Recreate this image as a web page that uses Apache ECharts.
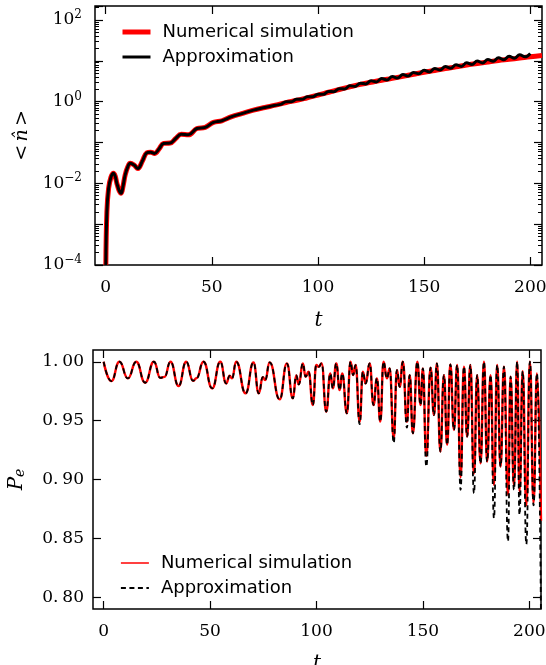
<!DOCTYPE html>
<html>
<head>
<meta charset="utf-8">
<title>Mean photon number and P_e</title>
<script src="https://cdn.jsdelivr.net/npm/echarts@6/dist/echarts.min.js"></script>
</head>
<body style="margin:0">
<div id="main" style="width:546px;height:665px"></div>
<script>
// top panel: <n> against t (log scale)
var nTimes = [0.1, 0.6, 1.4, 2.5, 3.7, 4.5, 5.3, 6.3, 7.3, 8.2, 9.2, 10.4, 11.6, 13.4, 15.2, 17.3, 19.4, 21.2, 23, 25.2,
  27.3, 30.4, 33, 35.6, 39, 43, 46.9, 50.8, 54.7, 59.4, 64.1, 69.6, 75, 80, 85, 90, 95, 100, 105, 110,
  115, 120, 125, 130, 135, 140, 145, 150, 155, 160, 165, 170, 175, 180, 185, 190, 195, 200, 205.5];
var nNumerical = [0.0001, 0.002, 0.0075, 0.014, 0.0176, 0.015, 0.010, 0.0068, 0.0057, 0.0085, 0.016, 0.025, 0.031, 0.028, 0.023, 0.035, 0.056, 0.058, 0.054, 0.07,
  0.095, 0.097, 0.125, 0.16, 0.154, 0.22, 0.235, 0.31, 0.34, 0.43, 0.51, 0.62, 0.72, 0.82, 0.95, 1.08, 1.25, 1.45, 1.7, 1.98,
  2.3, 2.65, 2.98, 3.35, 3.72, 4.17, 4.68, 5.25, 5.8, 6.45, 7.1, 7.9, 8.6, 9.4, 10.2, 10.9, 11.7, 12.6, 13.5];
// approximation follows the simulation up to t = 80, then wiggles
var nApproxTimes = [82.5, 85, 87.5, 90, 92.5, 95, 97.5, 100, 102.5, 105, 107.5, 110, 112.5, 115, 117.5, 120,
  122.5, 125, 127.5, 130, 132.5, 135, 137.5, 140, 142.5, 145, 147.5, 150, 152.5, 155, 157.5, 160,
  162.5, 165, 167.5, 170, 172.5, 175, 177.5, 180, 182.5, 185, 187.5, 190, 192.5, 195, 197.5, 200];
var nApprox = [0.86, 0.99, 1.0, 1.14, 1.14, 1.32, 1.32, 1.52, 1.51, 1.78, 1.76, 2.08, 2.04, 2.44, 2.36, 2.84,
  2.72, 3.24, 3.05, 3.68, 3.4, 4.12, 3.8, 4.62, 4.25, 5.2, 4.8, 5.85, 5.35, 6.5, 5.95, 7.25,
  6.6, 8.05, 7.3, 8.95, 8.1, 9.85, 8.9, 10.8, 9.8, 11.9, 10.6, 12.9, 11.5, 14.1, 12.5, 15.2];

// bottom panel: P_e against t
var peTimes = [0, 3.6, 7.4, 11.4, 15.3, 19.5, 23.6, 26.6, 28.6, 31.4,
  35.2, 38.8, 42.0, 43.6, 46.9, 51.0, 54.8, 57.6, 59.2, 60.3,
  62.3, 66.7, 70.4, 72.9, 74.8, 75.9, 78.0, 82.7, 86.1, 88.9,
  90.5, 91.7, 93.6, 94.9, 96.3, 98.3, 99.9, 101.1, 102.4, 104.6,
  106.5, 107.7, 109.3, 110.9, 112.1, 114.3, 116.0, 117.2, 118.4, 120.3,
  121.8, 123.1, 125.0, 126.8, 128.4, 130.0, 131.5, 133.1, 134.4, 136.3,
  137.8, 139.1, 140.6, 142.5, 143.8, 145.3, 147.4, 148.9, 150.0, 151.6,
  153.6, 155.2, 156.6, 158.2, 159.9, 161.4, 162.9, 164.6, 166.1, 167.7,
  169.3, 170.8, 172.3, 174.0, 175.5, 177.1, 178.7, 180.2, 181.8, 183.4,
  184.9, 186.5, 188.1, 190.0, 191.2, 192.8, 194.3, 195.4, 196.9, 198.6,
  200.3, 202.0, 203.6, 205.5];
var peNumerical = [1.000, 0.9836, 1.000, 0.9859, 1.000, 0.9822, 1.000, 0.9864, 0.9872, 1.000,
  0.9794, 1.000, 0.9838, 0.9860, 1.000, 0.9774, 1.000, 0.9816, 0.9881, 0.9859,
  1.000, 0.9732, 0.9994, 0.9732, 0.9870, 0.9845, 0.9994, 0.9681, 0.9985, 0.9689,
  0.9884, 0.9808, 0.9986, 0.9873, 0.9915, 0.9633, 0.9972, 0.9958, 0.9986, 0.9576,
  0.9900, 0.9774, 0.9986, 0.9760, 0.9900, 0.9562, 1.000, 0.9887, 0.9972, 0.9490,
  0.9915, 0.9816, 0.9986, 0.9633, 0.9859, 0.9492, 1.000, 0.9859, 0.9944, 0.9350,
  0.9929, 0.9788, 1.000, 0.9490, 0.9887, 0.9393, 1.000, 0.9633, 0.9944, 0.9200,
  0.9950, 0.9548, 0.9986, 0.9237, 0.9887, 0.9294, 0.9977, 0.9421, 0.9972, 0.9020,
  0.9958, 0.9364, 0.9972, 0.9050, 0.9887, 0.9138, 1.000, 0.9153, 0.9887, 0.8955,
  0.9972, 0.9110, 0.9958, 0.8870, 0.9873, 0.8950, 1.000, 0.8900, 0.9920, 0.8780,
  1.000, 0.8800, 0.9900, 0.8650];
var peApprox = [1.000, 0.9836, 1.000, 0.9859, 1.000, 0.9822, 1.000, 0.9864, 0.9872, 1.000,
  0.9794, 1.000, 0.9838, 0.9860, 1.000, 0.9774, 1.000, 0.9816, 0.9881, 0.9859,
  1.000, 0.9732, 0.9994, 0.9732, 0.9870, 0.9845, 0.9994, 0.9681, 0.9985, 0.9689,
  0.9884, 0.9808, 0.9986, 0.9873, 0.9915, 0.9633, 0.9972, 0.9958, 0.9986, 0.9576,
  0.9900, 0.9774, 0.9986, 0.9760, 0.9900, 0.9562, 1.000, 0.9887, 0.9972, 0.9470,
  0.9915, 0.9816, 0.9986, 0.9633, 0.9859, 0.9492, 1.000, 0.9859, 0.9944, 0.9310,
  0.9929, 0.9788, 1.000, 0.9440, 0.9887, 0.9393, 1.000, 0.9633, 0.9944, 0.9110,
  0.9950, 0.9548, 0.9986, 0.9237, 0.9887, 0.9294, 0.9977, 0.9421, 0.9972, 0.8912,
  0.9958, 0.9364, 0.9972, 0.8884, 0.9887, 0.9138, 1.000, 0.9153, 0.9887, 0.8672,
  0.9972, 0.9110, 0.9958, 0.8475, 0.9873, 0.8912, 1.000, 0.8700, 0.9920, 0.8450,
  1.000, 0.8780, 0.9900, 0.7800];

var timeTicks = [0, 50, 100, 150, 200];
var peTicks = [0.80, 0.85, 0.90, 0.95, 1.00];
var seriesNames = ['Numerical simulation', 'Approximation'];

var tMin = -5, tMax = 205.5;
var nMin = 1e-4, nMax = 220;

function pairs(xs, ys) {
  return xs.map(function (x, i) { return [x, ys[i]]; });
}
var topApprox = pairs(nTimes, nNumerical).filter(function (p) { return p[0] <= 80; })
  .concat(pairs(nApproxTimes, nApprox));

// matplotlib style minor log ticks (2..9 x 10^k), placed on a log10 value axis
var minorLog = [];
for (var e = -4; e <= 2; e++) {
  for (var m = 2; m <= 9; m++) {
    var v = Math.log10(m) + e;
    if (v < Math.log10(nMax)) minorLog.push(v);
  }
}

var serif = 'DejaVu Serif';
var tickCommon = { show: true, inside: true, length: 8, lineStyle: { color: '#000', width: 1.2 } };
var noLine = { show: false, onZero: false };

function timeAxis(grid, pos, labels, gap) {
  return {
    type: 'value', gridIndex: grid, position: pos, min: tMin, max: tMax,
    axisLine: noLine, splitLine: { show: false },
    axisTick: Object.assign({ customValues: timeTicks }, tickCommon),
    axisLabel: labels ? {
      show: true, customValues: timeTicks, margin: 14,
      fontFamily: serif, fontSize: 17, color: '#000'
    } : { show: false },
    name: labels ? '{i|t}' : '', nameLocation: 'middle', nameGap: gap || 42,
    nameTextStyle: { rich: { i: { fontFamily: serif, fontStyle: 'italic', fontSize: 20, color: '#000' } } }
  };
}

function logLabel(v) {
  var e = Math.log10(v);
  var r = Math.round(e);
  if (Math.abs(e - r) > 1e-6 || r % 2 !== 0) return '';
  return '{b|10}{s|' + (r < 0 ? '\u2212' + (-r) : r) + '}';
}

function logAxis(pos, labels) {
  return {
    type: 'log', gridIndex: 0, position: pos, min: nMin, max: nMax, logBase: 10,
    axisLine: noLine, splitLine: { show: false },
    axisTick: tickCommon,
    axisLabel: labels ? {
      show: true, margin: 13, formatter: logLabel,
      rich: {
        b: { fontFamily: serif, fontSize: 17, color: '#000', lineHeight: 22 },
        s: { fontFamily: serif, fontSize: 12, color: '#000', verticalAlign: 'top', lineHeight: 14 }
      }
    } : { show: false },
    name: labels ? '{a|<} {i|n\u0302} {a|>}' : '', nameLocation: 'middle', nameGap: 62, nameRotate: 90,
    nameTextStyle: { rich: {
      a: { fontFamily: serif, fontSize: 19, color: '#000' },
      i: { fontFamily: serif, fontStyle: 'italic', fontSize: 19, color: '#000' }
    } }
  };
}

function minorAxis(pos) {
  return {
    type: 'value', gridIndex: 0, position: pos, min: Math.log10(nMin), max: Math.log10(nMax),
    axisLine: noLine, splitLine: { show: false }, axisLabel: { show: false },
    axisTick: { show: true, inside: true, length: 4, customValues: minorLog, lineStyle: { color: '#000', width: 1 } }
  };
}

function peAxis(pos, labels) {
  return {
    type: 'value', gridIndex: 1, position: pos, min: 0.79, max: 1.01,
    axisLine: noLine, splitLine: { show: false },
    axisTick: Object.assign({ customValues: peTicks }, tickCommon),
    axisLabel: labels ? {
      show: true, customValues: peTicks, margin: 9,
      formatter: function (v) {
        var s = v.toFixed(2);
        return '{a|' + s.slice(0, 2) + '}{b|' + s.slice(2) + '}';
      },
      rich: {
        a: { fontFamily: serif, fontSize: 17, color: '#000' },
        b: { fontFamily: serif, fontSize: 17, color: '#000', padding: [0, 0, 0, 4] }
      }
    } : { show: false },
    name: labels ? '{i|P}{e|e}' : '', nameLocation: 'middle', nameGap: 66, nameRotate: 90,
    nameTextStyle: { rich: {
      i: { fontFamily: serif, fontStyle: 'italic', fontSize: 20, color: '#000' },
      e: { fontFamily: serif, fontStyle: 'italic', fontSize: 14, color: '#000', verticalAlign: 'bottom', padding: [6, 0, 0, 0] }
    } }
  };
}

var legendText = { fontFamily: 'DejaVu Sans', fontSize: 18, color: '#000', padding: [0, 0, 0, 7] };

var chart = echarts.init(document.getElementById('main'), null, { renderer: 'canvas' });
chart.setOption({
  animation: false,
  backgroundColor: '#fff',
  grid: [
    { left: 95, right: 4, top: 6, height: 259, outerBoundsMode: 'none', containLabel: false,
      show: true, borderColor: '#000', borderWidth: 1.5, backgroundColor: 'transparent' },
    { left: 93, right: 5, top: 350, height: 259, outerBoundsMode: 'none', containLabel: false,
      show: true, borderColor: '#000', borderWidth: 1.5, backgroundColor: 'transparent' }
  ],
  xAxis: [timeAxis(0, 'bottom', true, 46), timeAxis(0, 'top', false), timeAxis(1, 'bottom', true, 45), timeAxis(1, 'top', false)],
  yAxis: [logAxis('left', true), logAxis('right', false), minorAxis('left'), minorAxis('right'),
    peAxis('left', true), peAxis('right', false)],
  legend: [
    {
      orient: 'vertical', left: 115, top: 18, itemWidth: 28, itemHeight: 14, itemGap: 7,
      textStyle: legendText, itemStyle: { opacity: 0 },
      data: [
        { name: seriesNames[0], lineStyle: { color: '#ff0000', width: 5, type: 'solid' } },
        { name: seriesNames[1], lineStyle: { color: '#000', width: 3, type: 'solid' } }
      ]
    },
    {
      orient: 'vertical', left: 115, top: 549, itemWidth: 28, itemHeight: 14, itemGap: 7,
      textStyle: legendText, itemStyle: { opacity: 0 },
      data: [
        { name: seriesNames[0], lineStyle: { color: '#ff0000', width: 1.5, type: 'solid' } },
        { name: seriesNames[1], lineStyle: { color: '#000', width: 1.8, type: [5, 3.5] } }
      ]
    }
  ],
  series: [
    {
      name: seriesNames[0], type: 'line', xAxisIndex: 0, yAxisIndex: 0, symbol: 'none', smooth: 0.4,
      lineStyle: { color: '#ff0000', width: 5 }, itemStyle: { color: '#ff0000' },
      data: pairs(nTimes, nNumerical)
    },
    {
      name: seriesNames[1], type: 'line', xAxisIndex: 0, yAxisIndex: 0, symbol: 'none', smooth: 0.4,
      lineStyle: { color: '#000', width: 3 }, itemStyle: { color: '#000' },
      data: topApprox
    },
    {
      name: seriesNames[0], type: 'line', xAxisIndex: 2, yAxisIndex: 4, symbol: 'none', smooth: 0.5, smoothMonotone: 'x',
      lineStyle: { color: '#ff0000', width: 2.4 }, itemStyle: { color: '#ff0000' },
      data: pairs(peTimes, peNumerical)
    },
    {
      name: seriesNames[1], type: 'line', xAxisIndex: 2, yAxisIndex: 4, symbol: 'none', smooth: 0.5, smoothMonotone: 'x',
      lineStyle: { color: '#000', width: 1.8, type: [5, 3.5] }, itemStyle: { color: '#000' },
      data: pairs(peTimes, peApprox)
    }
  ]
});
</script>
</body>
</html>
